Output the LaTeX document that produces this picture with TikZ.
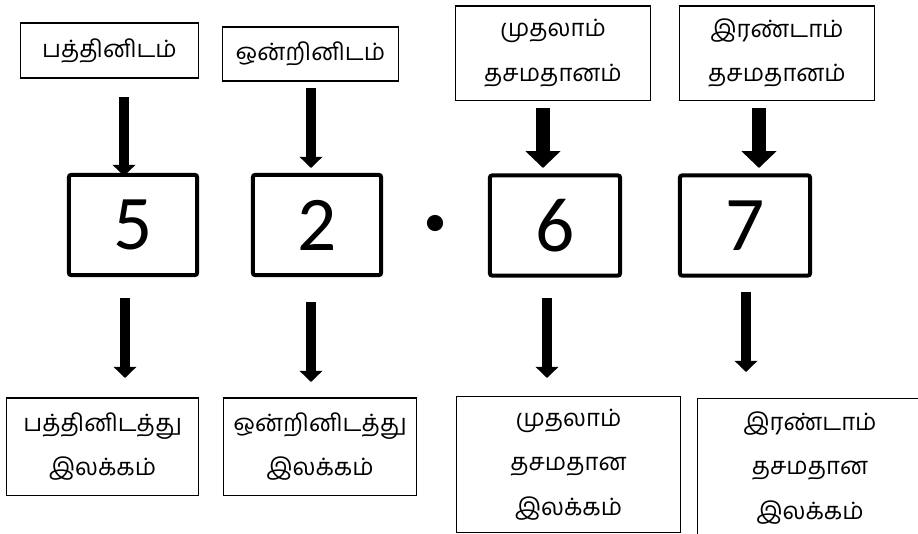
\documentclass[tikz,border=0pt]{standalone}
\usepackage{fontspec}
\newfontfamily\tamilfont[Script=Tamil]{Hind Madurai}
\newfontfamily\digitfont{Carlito}
\usetikzlibrary{arrows.meta}

\begin{document}
\begin{tikzpicture}[%%
  x=0.01cm,y=-0.01cm,
  labelBox/.style={draw,line width=0.3pt,align=center,inner sep=0pt,
    font=\tamilfont\fontsize{6.8}{12.6}\selectfont},
  digitBox/.style={draw,line width=1.15pt,rounded corners=0.6pt,inner sep=0pt,
    minimum height=1cm,font=\digitfont\fontsize{22}{26}\selectfont},
  thinArrow/.style={line width=3.1pt,-{Triangle[width=6.4pt,length=3.2pt]}},
  wideArrow/.style={line width=4pt,-{Triangle[width=9.7pt,length=4.8pt]}}
]
%%
\useasboundingbox (0,0) rectangle (918,533);
\clip (0,0) rectangle (918,533);
%%
%% The names of the places.
\node[labelBox,minimum width=1.77cm,minimum height=0.55cm] (t1) at (109.5,50.5) {பத்தினிடம்};
\node[labelBox,minimum width=1.75cm,minimum height=0.54cm] (t2) at (310.5,54) {ஒன்றினிடம்};
\node[labelBox,minimum width=1.94cm,minimum height=0.94cm] (t3) at (553,53) {முதலாம்\\தசமதானம்};
\node[labelBox,minimum width=1.94cm,minimum height=0.94cm] (t4) at (777,53) {இரண்டாம்\\தசமதானம்};
%%
%% The digits of the number.
\node[digitBox,minimum width=1.28cm] (d5) at (133,225) {5};
\node[digitBox,minimum width=1.28cm] (d2) at (317,225) {2};
\node[circle,fill,inner sep=0pt,minimum size=4.6pt] (dot) at (435,223) {};
\node[digitBox,minimum width=1.30cm] (d6) at (555,225.5) {6};
\node[digitBox,minimum width=1.30cm] (d7) at (745,225.5) {7};
%%
%% The names of the digits.
\node[labelBox,minimum width=1.91cm,minimum height=0.97cm] (b1) at (102.5,446.5) {பத்தினிடத்து\\இலக்கம்};
\node[labelBox,minimum width=1.92cm,minimum height=0.97cm] (b2) at (320,446.5) {ஒன்றினிடத்து\\இலக்கம்};
\node[labelBox,minimum width=2.23cm,minimum height=1.35cm] (b3) at (568.5,464.5) {முதலாம்\\தசமதான\\இலக்கம்};
\node[labelBox,minimum width=2.24cm,minimum height=1.38cm] (b4) at (810,468) {இரண்டாம்\\தசமதான\\இலக்கம்};
%%
%% Ends of the arrows.
\coordinate (a1) at (124,97);  \coordinate (e1) at (124,176);
\coordinate (a2) at (311,88);  \coordinate (e2) at (311,168);
\coordinate (a3) at (543,108); \coordinate (e3) at (543,168);
\coordinate (a4) at (759,108); \coordinate (e4) at (759,168);
\coordinate (c1) at (125,298); \coordinate (f1) at (125,378);
\coordinate (c2) at (311,302); \coordinate (f2) at (311,382);
\coordinate (c3) at (547,298); \coordinate (f3) at (547,378);
\coordinate (c4) at (746,292); \coordinate (f4) at (746,372);
%%
%% From the places to the digits.
\draw[thinArrow] (a1) -- (e1);
\draw[thinArrow] (a2) -- (e2);
\draw[wideArrow] (a3) -- (e3);
\draw[wideArrow] (a4) -- (e4);
%% From the digits to their names.
\draw[thinArrow] (c1) -- (f1);
\draw[thinArrow] (c2) -- (f2);
\draw[thinArrow] (c3) -- (f3);
\draw[thinArrow] (c4) -- (f4);
\end{tikzpicture}
\end{document}
